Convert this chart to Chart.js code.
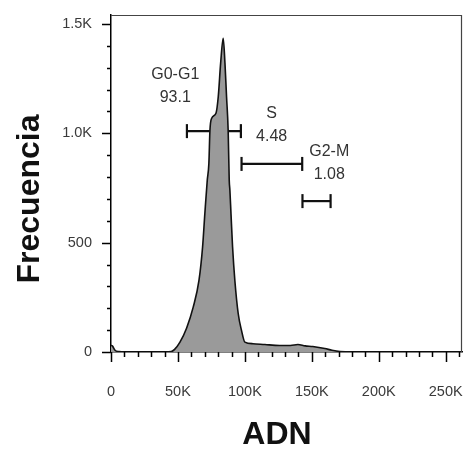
<!DOCTYPE html>
<html>
<head>
<meta charset="utf-8">
<script src="https://cdn.jsdelivr.net/npm/chart.js@4.4.0/dist/chart.umd.min.js"></script>
<style>
    html, body { margin: 0; padding: 0; background: #fff; overflow: hidden; }
    #wrap { width: 463px; height: 452px; position: relative; }
</style>
</head>
<body>
<div id="wrap"><canvas id="histChart"></canvas></div>
<script>
// Histogram data (ADN channel in units, counts)
const adnValues = [0, 1000, 3000, 6000, 10000, 20000, 30000, 40000, 45000, 47500, 51500, 56500, 61400, 65700, 68400, 70100, 71900, 73100, 73900, 75200, 78400, 80100, 81900, 83800, 85100, 86300, 87500, 88300, 88800, 89600, 90800, 92500, 95000, 97500, 100000, 106000, 115000, 126000, 134000, 139600, 145000, 150700, 159700, 165000, 171000, 180000, 200000, 262144];
const frecuencia = [30, 28, 8, 2, 0, 0, 0, 0, 2, 12, 45, 110, 205, 327, 480, 634, 786, 863, 1014, 1069, 1092, 1167, 1322, 1435, 1322, 1167, 1014, 786, 740, 634, 480, 327, 176, 98, 45, 38, 34, 30, 30, 34, 28, 25, 16, 8, 2, 0, 0, 0];

// Gates
const gateNames = ['G0-G1', 'S', 'G2-M'];
const gatePercents = ['93.1', '4.48', '1.08'];
const gateStart = [56700, 97500, 143000];
const gateEnd = [97000, 142800, 164000];
const gateLevel = [1010, 860, 690];
const gateLabelX = [48000, 120000, 163000];
const gateLabelY = [1162, 983, 810];

// Axis ticks
const xTicks = [0, 50000, 100000, 150000, 200000, 250000];
const yTicks = [0, 500, 1000, 1500];
const yTickLabels = ['0', '500', '1.0K', '1.5K'];

const histPoints = adnValues.map((x, i) => ({ x: x, y: frecuencia[i] }));

const gateDatasets = gateNames.map((name, i) => ({
    type: 'line',
    label: name,
    data: [{ x: gateStart[i], y: gateLevel[i] }, { x: gateEnd[i], y: gateLevel[i] }],
    borderColor: '#111',
    borderWidth: 2.2,
    pointStyle: 'line',
    pointRotation: 90,
    pointRadius: 7,
    pointBorderWidth: 2.2,
    pointBorderColor: '#111',
    pointHoverRadius: 7,
    fill: false
}));

// no automatic label padding, the plot box is fixed
const fixPadding = scale => {
    scale.paddingTop = 0;
    scale.paddingBottom = 0;
    scale.paddingLeft = 0;
    scale.paddingRight = 0;
};

// minor / major ticks, frame and labels
const decorPlugin = {
    id: 'decor',
    afterDraw(chart) {
        const ctx = chart.ctx;
        const xs = chart.scales.x;
        const ys = chart.scales.y;
        const area = chart.chartArea;
        ctx.save();

        // frame top + right
        ctx.strokeStyle = '#444';
        ctx.lineWidth = 1.2;
        ctx.beginPath();
        ctx.moveTo(area.left, area.top + 0.5);
        ctx.lineTo(area.right - 0.5, area.top + 0.5);
        ctx.lineTo(area.right - 0.5, area.bottom);
        ctx.stroke();

        // ticks
        ctx.strokeStyle = '#000';
        ctx.lineWidth = 1.5;
        ctx.beginPath();
        for (let v = 0; v <= 260000; v += 10000) {
            const px = Math.round(xs.getPixelForValue(v)) + 0.5;
            const len = v % 50000 === 0 ? 10 : 5;
            ctx.moveTo(px, area.bottom);
            ctx.lineTo(px, area.bottom + len);
        }
        for (let v = 0; v <= 1500; v += 100) {
            const py = Math.round(ys.getPixelForValue(v)) + 0.5;
            const len = v % 500 === 0 ? 9 : 4;
            ctx.moveTo(area.left, py);
            ctx.lineTo(area.left - len, py);
        }
        ctx.stroke();

        // gate labels
        ctx.fillStyle = '#333';
        ctx.font = '16px "Liberation Sans", Arial, sans-serif';
        ctx.textAlign = 'center';
        ctx.textBaseline = 'middle';
        gateNames.forEach((name, i) => {
            const px = xs.getPixelForValue(gateLabelX[i]);
            const py = ys.getPixelForValue(gateLabelY[i]);
            ctx.fillText(name, px, py - 23);
            ctx.fillText(gatePercents[i], px, py);
        });

        // axis titles
        ctx.fillStyle = '#111';
        ctx.font = 'bold 32px "Liberation Sans", Arial, sans-serif';
        ctx.fillText('ADN', 277, 435);
        ctx.translate(30, 199);
        ctx.rotate(-Math.PI / 2);
        ctx.fillText('Frecuencia', 0, 0);
        ctx.restore();
    }
};

const histCtx = document.getElementById('histChart').getContext('2d');

new Chart(histCtx, {
    type: 'line',
    data: {
        datasets: [{
            label: 'Frecuencia',
            data: histPoints,
            borderColor: '#111',
            borderWidth: 1.6,
            backgroundColor: '#9a9a9a',
            fill: 'origin',
            pointRadius: 0,
            cubicInterpolationMode: 'monotone'
        }, ...gateDatasets]
    },
    options: {
        responsive: true,
        maintainAspectRatio: false,
        animation: false,
        events: [],
        layout: { autoPadding: false, padding: { top: 15, right: 1, left: 0, bottom: 0 } },
        scales: {
            x: {
                type: 'linear',
                min: 0,
                max: 262144,
                grid: { display: false },
                border: { display: true, color: '#000', width: 1.5 },
                afterFit: scale => { scale.height = 100; fixPadding(scale); },
                afterBuildTicks: scale => { scale.ticks = xTicks.map(v => ({ value: v })); },
                ticks: {
                    padding: 23,
                    maxRotation: 0,
                    color: '#3a3a3a',
                    font: { family: '"Liberation Sans", Arial, sans-serif', size: 14.5 },
                    callback: v => v === 0 ? '0' : (v / 1000) + 'K'
                }
            },
            y: {
                min: 0,
                max: 1541,
                grid: { display: false },
                border: { display: true, color: '#000', width: 1.5 },
                afterFit: scale => { scale.width = 111; fixPadding(scale); },
                afterBuildTicks: scale => { scale.ticks = yTicks.map(v => ({ value: v })); },
                ticks: {
                    padding: 11,
                    color: '#3a3a3a',
                    font: { family: '"Liberation Sans", Arial, sans-serif', size: 14.5 },
                    callback: v => yTickLabels[yTicks.indexOf(v)]
                }
            }
        },
        plugins: {
            legend: { display: false },
            tooltip: { enabled: false }
        }
    },
    plugins: [decorPlugin]
});
</script>
</body>
</html>
